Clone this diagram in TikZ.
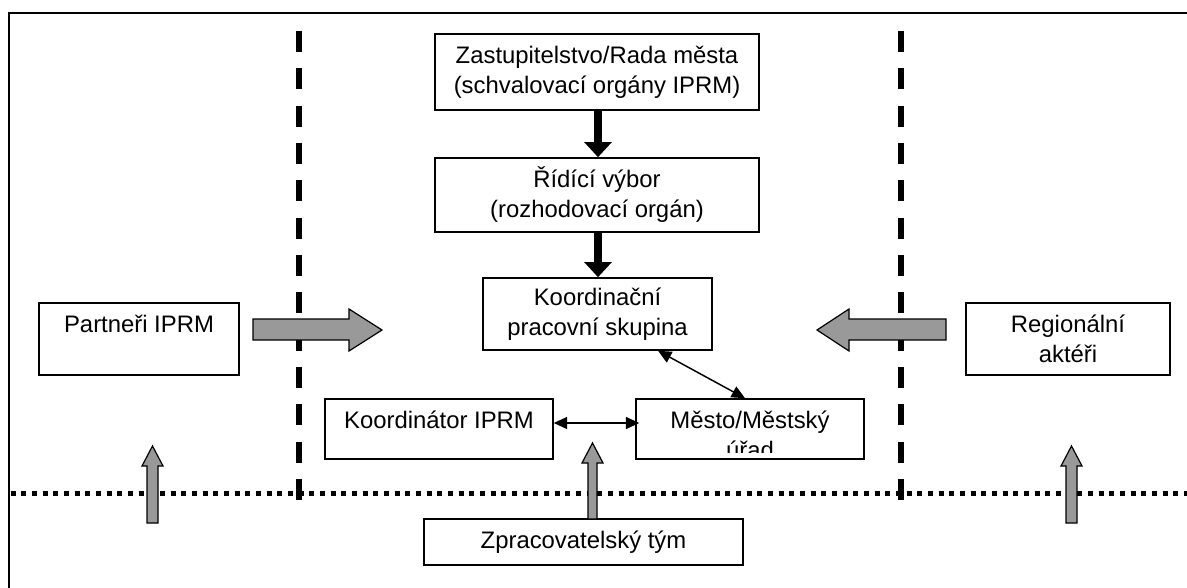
\documentclass[tikz,border=0pt]{standalone}
\usepackage{fontspec}
\setmainfont{Liberation Sans}
\usetikzlibrary{arrows.meta}
\definecolor{arrowgray}{HTML}{999999}
\begin{document}
\begin{tikzpicture}[x=0.75pt,y=-0.75pt,
  box/.style={draw,line width=1.2pt,inner sep=0pt,align=center,font=\fontsize{17.9}{22.5}\selectfont},
  txt/.style={inner sep=0pt,align=center,font=\fontsize{17.9}{22.5}\selectfont},
  blockarrow/.style={draw,line width=0.9pt,fill=arrowgray,line join=miter},
  bigarrow/.style={line width=6pt,-{Triangle[width=20pt,length=11.25pt]}},
  duo/.style={line width=1.1pt,{Triangle[width=9pt,length=10pt]}-{Triangle[width=9pt,length=10pt]}},
  boundary/.style={line width=4.5pt,dash pattern=on 15.75pt off 12.25pt},
  level/.style={line width=3.75pt,dash pattern=on 3.75pt off 4.25pt},
  ]
\useasboundingbox (0,0) rectangle (1187,588);
\clip (0,0) rectangle (1187,588);
% frame
\draw[line width=1.5pt] (9,600) -- (9,13) -- (1200,13);
% boundaries
\draw[boundary] (298.5,31) -- (298.5,500);
\draw[boundary] (901,31) -- (901,500);
\draw[level] (10.5,493) -- (1187,493);
% boxes
\node[box,fill=white,minimum width=243pt,minimum height=57pt] (zast) at (597,72) {Zastupitelstvo/Rada města\\(schvalovací orgány IPRM)};
\node[box,fill=white,minimum width=243pt,minimum height=55.5pt] (ridici) at (597,195) {Řídící výbor\\(rozhodovací orgán)};
\node[box,fill=white,minimum width=171.75pt,minimum height=54pt] (koordps) at (597.5,314) {Koordinační\\pracovní skupina};
\node[box,fill=white,minimum width=150pt,minimum height=54pt] (partneri) at (139,339) {};
\node[txt] (partneritxt) at (139,324) {Partneři IPRM};
\node[box,fill=white,minimum width=153pt,minimum height=54pt] (region) at (1068,339) {Regionální\\aktéři};
\node[box,fill=white,minimum width=171pt,minimum height=45pt] (koordinator) at (439,429) {};
\node[txt] (koordinatortxt) at (439,420) {Koordinátor IPRM};
\node[box,fill=white,minimum width=171pt,minimum height=45pt] (mesto) at (750,429) {};
\begin{scope}
  \clip (636,399) rectangle (864,452);
  \node[txt] (mestotxt) at (750,435) {Město/Městský\\úřad};
\end{scope}
\node[box,fill=white,minimum width=239.25pt,minimum height=34.5pt] (zprac) at (583.5,542) {Zpracovatelský tým};
% gray block arrows
\draw[blockarrow] (253,319) -- (349,319) -- (349,309) -- (382,330) -- (349,351) -- (349,340) -- (253,340) -- cycle;
\draw[blockarrow] (946,319) -- (849,319) -- (849,309) -- (817,330) -- (849,351) -- (849,340) -- (946,340) -- cycle;
\draw[blockarrow] (147,523) -- (147,466) -- (142,466) -- (152.5,446) -- (163,466) -- (158,466) -- (158,523) -- cycle;
\draw[blockarrow] (588,519) -- (588,463) -- (582,463) -- (592.5,443) -- (603,463) -- (597,463) -- (597,519) -- cycle;
\draw[blockarrow] (1066,523) -- (1066,466) -- (1061,466) -- (1071.5,446) -- (1082,466) -- (1077,466) -- (1077,523) -- cycle;
% black arrows
\draw[bigarrow] ([xshift=0.75pt]zast.south) -- ([xshift=0.75pt]ridici.north);
\draw[bigarrow] ([xshift=0.75pt]ridici.south) -- ([xshift=0.375pt]koordps.north);
\draw[duo,shorten <=-3pt,shorten >=-3pt] ([yshift=4.5pt,xshift=3pt]koordinator.east) -- ([yshift=4.5pt]mesto.west);
\draw[duo] ([xshift=45.4pt]koordps.south) -- ([xshift=-3.75pt]mesto.north);
\end{tikzpicture}
\end{document}
